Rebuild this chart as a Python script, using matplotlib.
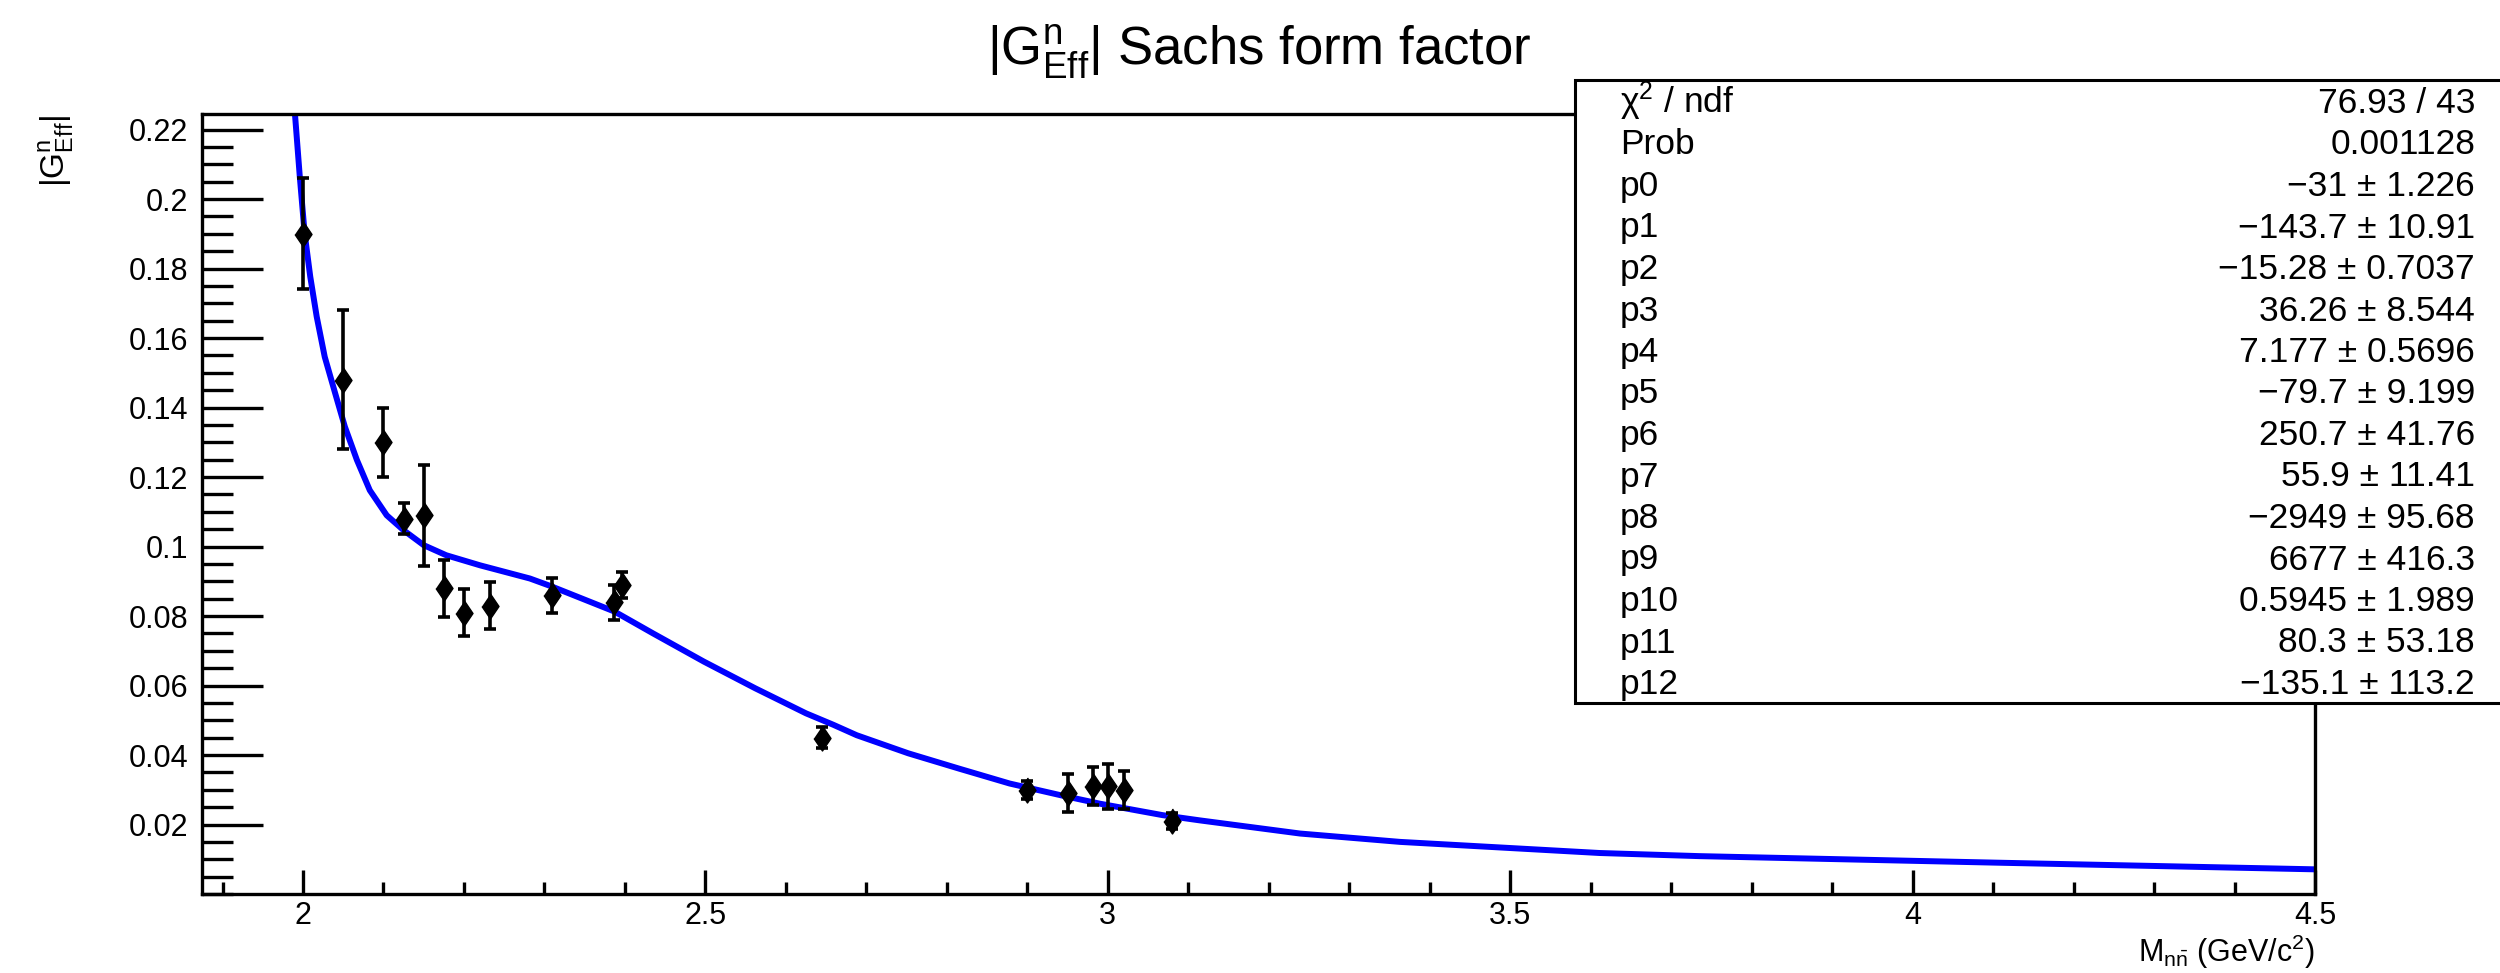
import matplotlib
matplotlib.use("Agg")
import matplotlib.pyplot as plt
from matplotlib.patches import Rectangle
from matplotlib.ticker import FixedLocator, MultipleLocator, FuncFormatter

plt.rcParams["font.family"] = ["Liberation Sans", "DejaVu Sans"]
plt.rcParams["mathtext.fontset"] = "custom"
plt.rcParams["mathtext.rm"] = "Liberation Sans"
plt.rcParams["mathtext.it"] = "Liberation Sans"
plt.rcParams["mathtext.sf"] = "Liberation Sans"
plt.rcParams["mathtext.bf"] = "Liberation Sans:bold"
plt.rcParams["mathtext.default"] = "regular"

# data points
mass = [2.0, 2.05, 2.1, 2.125, 2.15, 2.175, 2.2, 2.232, 2.309, 2.386, 2.396,
        2.645, 2.9, 2.95, 2.981, 3.0, 3.02, 3.08]
ge = [0.190, 0.148, 0.130, 0.108, 0.109, 0.088, 0.081, 0.083, 0.086, 0.084, 0.089,
      0.045, 0.030, 0.029, 0.031, 0.031, 0.030, 0.021]
ge_err = [0.016, 0.020, 0.010, 0.0045, 0.0146, 0.0082, 0.0067, 0.0068, 0.005, 0.005, 0.0037,
          0.003, 0.0026, 0.0055, 0.0055, 0.0065, 0.0055, 0.0023]

# fit curve
fit_x = [1.990, 1.996, 2.002, 2.009, 2.017, 2.027, 2.040, 2.052, 2.067, 2.083, 2.104,
         2.125, 2.150, 2.178, 2.220, 2.282, 2.308, 2.387, 2.435, 2.498, 2.562, 2.625,
         2.659, 2.688, 2.752, 2.815, 2.878, 2.942, 2.990, 3.068, 3.114, 3.239, 3.363,
         3.487, 3.611, 3.735, 4.108, 4.500]
fit_y = [0.2245, 0.2065, 0.1902, 0.1777, 0.1662, 0.1546, 0.1441, 0.1345, 0.1249, 0.1162, 0.1090,
         0.1047, 0.1004, 0.0975, 0.0946, 0.0908, 0.0886, 0.0813, 0.0750, 0.0669, 0.0592, 0.0520,
         0.0487, 0.0457, 0.0405, 0.0361, 0.0318, 0.0284, 0.0260, 0.0227, 0.0212, 0.0174, 0.0150,
         0.0134, 0.0118, 0.0109, 0.0090, 0.0071]

x_ticks = [2, 2.5, 3, 3.5, 4, 4.5]
y_ticks = [0.02, 0.04, 0.06, 0.08, 0.1, 0.12, 0.14, 0.16, 0.18, 0.2, 0.22]

stat_names = [r"$\chi^{2}$ / ndf", "Prob", "p0", "p1", "p2", "p3", "p4", "p5", "p6",
              "p7", "p8", "p9", "p10", "p11", "p12"]
stat_values = ["76.93 / 43", "0.001128", "\u221231 \u00b1 1.226", "\u2212143.7 \u00b1 10.91",
               "\u221215.28 \u00b1 0.7037", "36.26 \u00b1 8.544", "7.177 \u00b1 0.5696",
               "\u221279.7 \u00b1 9.199", "250.7 \u00b1 41.76", "55.9 \u00b1 11.41",
               "\u22122949 \u00b1 95.68", "6677 \u00b1 416.3", "0.5945 \u00b1 1.989",
               "80.3 \u00b1 53.18", "\u2212135.1 \u00b1 113.2"]

W, H = 2500, 973
fig = plt.figure(figsize=(W / 100, H / 100), dpi=100)
ax = fig.add_axes([202 / W, 1 - 894 / H, (2315 - 202) / W, (894 - 114) / H])
ax.set_xlim(1.8745, 4.5)
ax.set_ylim(0, 0.2245)

ax.plot(fit_x, fit_y, color="#0000ff", lw=4.3, zorder=2, solid_joinstyle="round")
ax.errorbar(mass, ge, yerr=ge_err, fmt="none", ecolor="black", elinewidth=2.6,
            capsize=4, capthick=2.6, zorder=3)
diamond = [(0, 1), (0.68, 0), (0, -1), (-0.68, 0)]
ax.plot(mass, ge, ls="none", marker=diamond, ms=18, color="black", zorder=4)

fmt = FuncFormatter(lambda v, p: f"{v:g}")
ax.xaxis.set_major_locator(FixedLocator(x_ticks))
ax.xaxis.set_minor_locator(MultipleLocator(0.1))
ax.yaxis.set_major_locator(FixedLocator(y_ticks))
ax.yaxis.set_minor_locator(MultipleLocator(0.005))
ax.xaxis.set_major_formatter(fmt)
ax.yaxis.set_major_formatter(fmt)

ax.tick_params(which="both", direction="in", top=False, right=False, width=2.4)
ax.tick_params(axis="y", which="major", length=44, labelsize=22, pad=10)
ax.tick_params(axis="y", which="minor", length=22)
ax.tick_params(axis="x", which="major", length=17, labelsize=22, pad=5)
ax.tick_params(axis="x", which="minor", length=9)
for s in ax.spines.values():
    s.set_linewidth(2.4)

# title and axis titles
fig.text(1259 / W, 1 - 65 / H, r"$|G^{n}_{Eff}|$ Sachs form factor", fontsize=38,
         ha="center", va="baseline")
fig.text(57 / W, 1 - 115 / H, r"$|G^{n}_{Eff}|$", fontsize=24, rotation=90,
         ha="center", va="top")
fig.text(2315 / W, 1 - 962 / H, r"$M_{n\bar{n}}$ (GeV/c$^{2}$)", fontsize=22,
         ha="right", va="baseline")

# stats box
box = Rectangle((1575 / W, 1 - 703 / H), (2530 - 1575) / W, (703 - 80) / H,
                transform=fig.transFigure, facecolor="white", edgecolor="black",
                lw=2.2, zorder=10, clip_on=False)
fig.add_artist(box)
for i, (name, val) in enumerate(zip(stat_names, stat_values)):
    yb = 1 - (113 + 41.5 * i) / H
    fig.text(1620 / W, yb, name, fontsize=25.5, ha="left", va="baseline", zorder=11)
    fig.text(2475 / W, yb, val, fontsize=25.5, ha="right", va="baseline", zorder=11)

fig.savefig("out.png", dpi=100)
